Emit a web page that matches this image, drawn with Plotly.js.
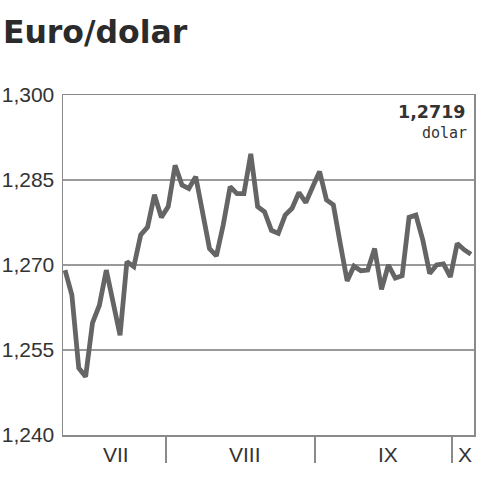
<!DOCTYPE html>
<html>
<head>
<meta charset="utf-8">
<script src="https://cdn.plot.ly/plotly-3.0.1.min.js"></script>
<style>
  html, body { margin: 0; padding: 0; background: #fff; }
  #chart { width: 482px; height: 480px; }
</style>
</head>
<body>
<div id="chart"></div>
<script>
// Daily euro/dollar rate (session index order)
var rates = [
  1.2691, 1.2647, 1.2518, 1.2503, 1.2598, 1.2629, 1.2691, 1.2633, 1.2576, 1.2706,
  1.2697, 1.2753, 1.2767, 1.2824, 1.2784, 1.2803, 1.2876, 1.2841, 1.2835, 1.2856,
  1.2791, 1.2729, 1.2716, 1.2771, 1.2838, 1.2826, 1.2826, 1.2896, 1.2803, 1.2794,
  1.2761, 1.2756, 1.2788, 1.2800, 1.2828, 1.2810, 1.2838, 1.2865, 1.2815, 1.2806,
  1.2738, 1.2672, 1.2698, 1.2690, 1.2691, 1.2729, 1.2657, 1.2700, 1.2677, 1.2681,
  1.2784, 1.2788, 1.2744, 1.2685, 1.2700, 1.2702, 1.2679, 1.2738, 1.2727, 1.2719
];
var sessions = rates.map(function (_, i) { return i; });

var monthLabels = ["VII", "VIII", "IX", "X"];
var monthCenters = [7.41, 26.16, 46.95, 58.14];
var monthBounds = [14.68, 36.34, 56.25];

var yTicks = [1.240, 1.255, 1.270, 1.285, 1.300];

var lastValueText = "1,2719";
var unitText = "dolar";

var trace = {
  x: sessions,
  y: rates,
  type: "scatter",
  mode: "lines",
  line: { color: "#656565", width: 4.8, shape: "linear" },
  hoverinfo: "skip"
};

var annotations = monthLabels.map(function (m, i) {
  return {
    x: monthCenters[i], xref: "x",
    y: 0, yref: "paper", yanchor: "top", yshift: -6,
    text: m, showarrow: false,
    font: { family: "Liberation Sans, Arial, sans-serif", size: 21, color: "#333" }
  };
});
annotations.push({
  x: 1, xref: "paper", xanchor: "right", xshift: -6,
  y: 1, yref: "paper", yanchor: "middle", yshift: -17,
  text: "<b>" + lastValueText + "</b>", showarrow: false,
  font: { family: "DejaVu Sans, sans-serif", size: 17.5, color: "#333" }
});
annotations.push({
  x: 1, xref: "paper", xanchor: "right", xshift: -5,
  y: 1, yref: "paper", yanchor: "middle", yshift: -38,
  text: unitText, showarrow: false,
  font: { family: "DejaVu Sans Mono, monospace", size: 15, color: "#333" }
});

var layout = {
  width: 482, height: 480,
  margin: { l: 63, r: 8, t: 95, b: 45, pad: 0 },
  paper_bgcolor: "#fff", plot_bgcolor: "#fff",
  showlegend: false,
  separators: ",.",
  title: {
    text: "<b>Euro/dolar</b>",
    x: 0.006, xanchor: "left", xref: "container",
    y: 0.91, yanchor: "bottom", yref: "container",
    font: { family: "DejaVu Sans, sans-serif", size: 31.5, color: "#2b2b2b" }
  },
  xaxis: {
    range: [-0.29, 59.44],
    tickmode: "array", tickvals: monthBounds,
    showticklabels: false,
    ticks: "outside", ticklen: 26, tickwidth: 1.5, tickcolor: "#8a8a8a",
    showgrid: false, zeroline: false,
    showline: true, mirror: true, linecolor: "#8a8a8a", linewidth: 1.5,
    fixedrange: true
  },
  yaxis: {
    range: [1.240, 1.300],
    tickmode: "array", tickvals: yTicks,
    tickformat: ".3f",
    ticks: "", ticklabelstandoff: 3,
    tickfont: { family: "Liberation Sans, Arial, sans-serif", size: 21, color: "#333" },
    showgrid: true, gridcolor: "#9a9a9a", gridwidth: 1.5,
    zeroline: false,
    showline: true, mirror: true, linecolor: "#8a8a8a", linewidth: 1.5,
    fixedrange: true
  },
  annotations: annotations
};

Plotly.newPlot("chart", [trace], layout, { displayModeBar: false, staticPlot: true });
</script>
</body>
</html>
